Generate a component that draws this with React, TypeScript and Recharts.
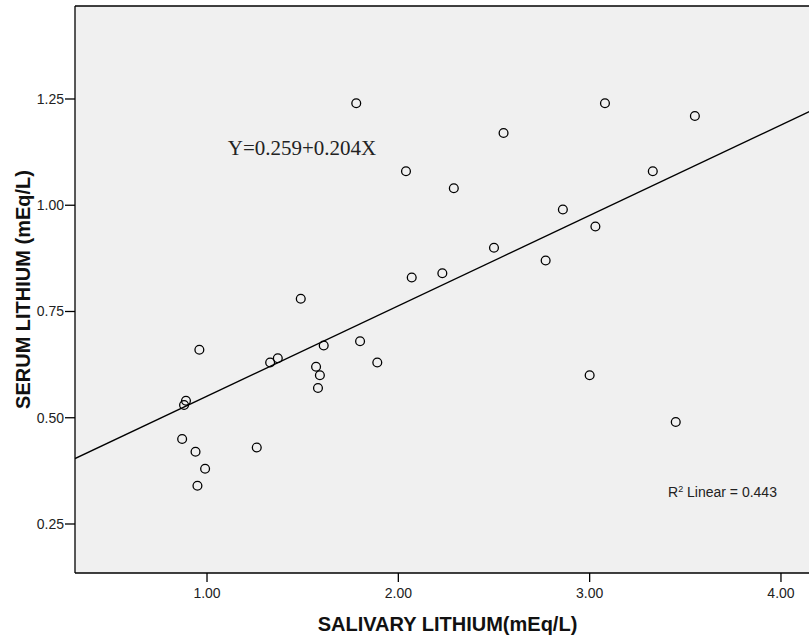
import React from 'react';
import {
    ScatterChart,
    Scatter,
    XAxis,
    YAxis,
    CartesianGrid,
    ReferenceLine,
    Label,
} from 'recharts';

// salivary vs serum lithium
const salivary = [
    1.78, 2.04, 2.29, 2.07, 2.23, 1.49, 3.08, 3.55, 2.55, 3.33, 2.86, 3.03, 2.50, 2.77, 0.96, 1.33,
    1.37, 1.61, 1.80, 1.89, 1.57, 1.59, 1.58, 0.89, 0.88, 0.87, 0.94, 1.26, 0.99, 0.95, 3.00, 3.45,
];
const serum = [
    1.24, 1.08, 1.04, 0.83, 0.84, 0.78, 1.24, 1.21, 1.17, 1.08, 0.99, 0.95, 0.90, 0.87, 0.66, 0.63,
    0.64, 0.67, 0.68, 0.63, 0.62, 0.60, 0.57, 0.54, 0.53, 0.45, 0.42, 0.43, 0.38, 0.34, 0.60, 0.49,
];

const xTicks = [1, 2, 3, 4];
const yTicks = [0.25, 0.5, 0.75, 1.0, 1.25];

// fit line as drawn, end to end
const fitLine = [
    { x: 0.31, y: 0.404 },
    { x: 4.204, y: 1.232 },
];

const equationText = 'Y=0.259+0.204X';
const r2Value = '0.443';

const points = salivary.map((x, i) => ({ x, y: serum[i] }));

const FONT = '"Liberation Sans", Arial, sans-serif';

const OpenCircle = (props: any) => (
    <circle cx={props.cx} cy={props.cy} r={4.4} fill="none" stroke="#000" strokeWidth={1.3} />
);

export default function App() {
    return (
        <div
            style={{
                position: 'absolute',
                left: 0,
                top: 0,
                width: 809,
                height: 639,
                overflow: 'hidden',
                background: '#fff',
            }}
        >
            <ScatterChart width={830} height={639} margin={{ top: 6, right: 10, bottom: 0, left: 0 }}>
                <CartesianGrid horizontal={false} vertical={false} fill="#f0f0f0" />
                <XAxis
                    type="number"
                    dataKey="x"
                    domain={[0.31, 4.204]}
                    ticks={xTicks}
                    tickFormatter={(v: number) => v.toFixed(2)}
                    height={66}
                    tickSize={9}
                    tickMargin={6}
                    axisLine={{ stroke: '#000', strokeWidth: 1.3 }}
                    tickLine={{ stroke: '#000', strokeWidth: 1.3 }}
                    tick={{ fontSize: 14, fill: '#222', fontFamily: FONT }}
                    allowDataOverflow
                >
                    <Label
                        content={({ viewBox }: any) => (
                            <text
                                x={viewBox.x + viewBox.width / 2}
                                y={631}
                                textAnchor="middle"
                                fontFamily={FONT}
                                fontWeight="bold"
                                fontSize={20}
                                fill="#111"
                            >
                                SALIVARY LITHIUM(mEq/L)
                            </text>
                        )}
                    />
                </XAxis>
                <YAxis
                    type="number"
                    dataKey="y"
                    domain={[0.1347, 1.4688]}
                    ticks={yTicks}
                    tickFormatter={(v: number) => v.toFixed(2)}
                    width={75}
                    tickSize={10}
                    tickMargin={1}
                    axisLine={{ stroke: '#000', strokeWidth: 1.3 }}
                    tickLine={{ stroke: '#000', strokeWidth: 1.3 }}
                    tick={{ fontSize: 14, fill: '#222', fontFamily: FONT }}
                    allowDataOverflow
                >
                    <Label
                        content={({ viewBox }: any) => {
                            const cx = 23;
                            const cy = viewBox.y + viewBox.height / 2;
                            return (
                                <text
                                    x={cx}
                                    y={cy}
                                    transform={`rotate(-90 ${cx} ${cy})`}
                                    textAnchor="middle"
                                    dominantBaseline="central"
                                    fontFamily={FONT}
                                    fontWeight="bold"
                                    fontSize={20}
                                    fill="#111"
                                >
                                    SERUM LITHIUM (mEq/L)
                                </text>
                            );
                        }}
                    />
                </YAxis>
                {/* top frame edge */}
                <ReferenceLine y={1.4688} stroke="#000" strokeWidth={1.3} ifOverflow="visible" />
                <ReferenceLine
                    segment={fitLine}
                    stroke="#000"
                    strokeWidth={1.3}
                    ifOverflow="hidden"
                />
                <Scatter data={points} shape={<OpenCircle />} isAnimationActive={false} />
                <text x={302} y={148} textAnchor="middle" dominantBaseline="central" fontFamily='"Liberation Serif", "Times New Roman", serif' fontSize={21} fill="#222">
                    {equationText}
                </text>
                <text x={668} y={497} fontFamily={FONT} fontSize={14} fill="#222">
                    R<tspan dy={-5} fontSize={9}>2</tspan>
                    <tspan dy={5}> Linear = {r2Value}</tspan>
                </text>
            </ScatterChart>
        </div>
    );
}
